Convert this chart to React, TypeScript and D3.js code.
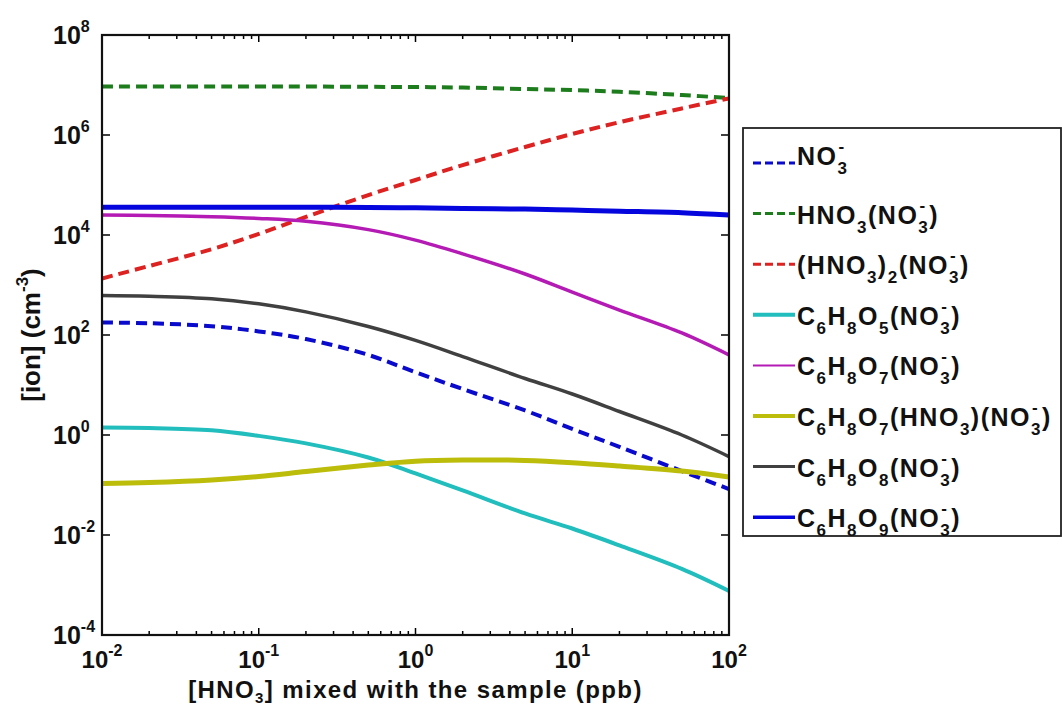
import React from 'react';
import * as d3 from 'd3';

// HNO3 mixed with the sample (ppb)
const hno3Ppb = [0.01, 0.02, 0.05, 0.1, 0.2, 0.5, 1, 2, 5, 10, 20, 50, 100];

// ion concentrations (cm^-3)
const no3 = [178, 172, 150, 118, 83, 40, 18, 8.3, 3.1, 1.32, 0.58, 0.19, 0.083];
const hno3No3 = [9.3e6, 9.3e6, 9.3e6, 9.3e6, 9.3e6, 9.2e6, 9.1e6, 8.9e6, 8.3e6, 7.9e6, 7.3e6, 6.3e6, 5.5e6];
const hno3_2No3 = [1350, 2400, 5200, 1.05e4, 2.3e4, 6.3e4, 1.26e5, 2.5e5, 5.75e5, 1.05e6, 1.8e6, 3.4e6, 5.4e6];
const c6h8o5 = [1.41, 1.38, 1.24, 0.96, 0.68, 0.355, 0.17, 0.078, 0.027, 0.0135, 0.0062, 0.0021, 0.00076];
const c6h8o7 = [2.5e4, 2.46e4, 2.33e4, 2.15e4, 1.88e4, 1.28e4, 7.9e3, 4.2e3, 1.66e3, 720, 316, 110, 40];
const c6h8o7Hno3 = [0.107, 0.112, 0.126, 0.148, 0.186, 0.25, 0.3, 0.316, 0.31, 0.28, 0.24, 0.19, 0.145];
const c6h8o8 = [617, 595, 530, 420, 290, 148, 78, 37, 13.5, 6.6, 2.95, 1.0, 0.37];
const c6h8o9 = [3.6e4, 3.6e4, 3.6e4, 3.6e4, 3.6e4, 3.55e4, 3.5e4, 3.4e4, 3.3e4, 3.15e4, 3.0e4, 2.8e4, 2.5e4];

const seriesValues = [no3, hno3No3, hno3_2No3, c6h8o5, c6h8o7, c6h8o7Hno3, c6h8o8, c6h8o9];
const seriesNames = [
  'NO_3^-',
  'HNO_3(NO_3^-)',
  '(HNO_3)_2(NO_3^-)',
  'C_6H_8O_5(NO_3^-)',
  'C_6H_8O_7(NO_3^-)',
  'C_6H_8O_7(HNO_3)(NO_3^-)',
  'C_6H_8O_8(NO_3^-)',
  'C_6H_8O_9(NO_3^-)',
];
const seriesColors = ['#0a0acc', '#1d7d1d', '#dd2222', '#22bdbd', '#b41ab4', '#bcbc0a', '#404040', '#0505dd'];
const seriesDashed = [true, true, true, false, false, false, false, false];
const seriesWidths = [4, 4, 4, 4, 3.5, 5, 3.5, 5];
const legendWidths = [3, 3, 3, 4, 2, 4, 3, 3.5];

const xTickExps = [-2, -1, 0, 1, 2];
const yTickExps = [-4, -2, 0, 2, 4, 6, 8];
const xAxisLabel = '[HNO_3] mixed with the sample (ppb)';
const yAxisLabel = '[ion] (cm^{-3})';

const FONT = '"Liberation Sans", Arial, Helvetica, sans-serif';

type Seg = { t: string; k: 'n' | 'sub' | 'sup'; stack?: boolean };

function parse(s: string): Seg[] {
  const out: Seg[] = [];
  let buf = '';
  let i = 0;
  const flush = () => {
    if (buf) {
      out.push({ t: buf, k: 'n' });
      buf = '';
    }
  };
  while (i < s.length) {
    const c = s[i];
    if (c === '_' || c === '^') {
      flush();
      let t = '';
      if (s[i + 1] === '{') {
        const j = s.indexOf('}', i + 2);
        t = s.slice(i + 2, j);
        i = j + 1;
      } else {
        t = s[i + 1];
        i += 2;
      }
      const k = c === '_' ? 'sub' : 'sup';
      const prev = out[out.length - 1];
      out.push({ t, k, stack: !!prev && prev.k === 'sub' && k === 'sup' });
    } else {
      buf += c;
      i++;
    }
  }
  flush();
  return out;
}

function richSpans(text: string, fs: number, smallFs: number, subDy: number, supDy: number, ls = 0) {
  const segs = parse(text);
  let cur = 0;
  let pendingDx = 0;
  const nodes: React.ReactNode[] = [];
  segs.forEach((s, i) => {
    const target = s.k === 'sub' ? subDy : s.k === 'sup' ? supDy : 0;
    const dy = target - cur;
    cur = target;
    let dx = pendingDx;
    pendingDx = 0;
    if (s.stack) {
      const prev = segs[i - 1];
      const prevW = prev.t.length * (0.556 * smallFs + ls);
      const supW = s.t.length * (0.333 * smallFs + ls);
      dx = -prevW + 1;
      pendingDx = Math.max(0, prevW - supW - 1);
    }
    nodes.push(
      <tspan key={i} dy={dy} dx={dx || undefined} fontSize={s.k === 'n' ? fs : smallFs}>
        {s.t}
      </tspan>
    );
  });
  return nodes;
}

export default function App() {
  const W = 1062;
  const H = 707;
  const left = 102, right = 729, top = 35, bottom = 635;

  const x = d3.scaleLog().domain([1e-2, 1e2]).range([left, right]);
  const y = d3.scaleLog().domain([1e-4, 1e8]).range([bottom, top]);

  const line = d3
    .line<[number, number]>()
    .x((d) => x(d[0]))
    .y((d) => y(d[1]))
    .curve(d3.curveCatmullRom.alpha(0.5));

  const minorX: number[] = [];
  for (let e = -2; e < 2; e++) for (let k = 2; k <= 9; k++) minorX.push(k * Math.pow(10, e));

  const legX = 743, legY = 128, legW = 318, legH = 408;
  const rowY0 = 163, rowStep = 50.6;

  return (
    <svg
      width={W}
      height={H}
      style={{ position: 'absolute', left: 0, top: 0, background: '#fff' }}
      fontFamily={FONT}
      fontWeight="bold"
    >
      <rect x={0} y={0} width={W} height={H} fill="#fff" />
      <defs>
        <clipPath id="plotclip">
          <rect x={left} y={top} width={right - left} height={bottom - top} />
        </clipPath>
      </defs>

      {/* series */}
      <g clipPath="url(#plotclip)">
        {seriesValues.map((vals, i) => (
          <path
            key={i}
            d={line(hno3Ppb.map((xv, j) => [xv, vals[j]] as [number, number])) || ''}
            fill="none"
            stroke={seriesColors[i]}
            strokeWidth={seriesWidths[i]}
            strokeDasharray={seriesDashed[i] ? '11 6' : undefined}
          />
        ))}
      </g>

      {/* ticks */}
      <g stroke="#000" strokeWidth={1.5}>
        {xTickExps.map((e) => {
          const px = x(Math.pow(10, e));
          return (
            <g key={'xt' + e}>
              <line x1={px} x2={px} y1={bottom} y2={bottom - 7} />
              <line x1={px} x2={px} y1={top} y2={top + 7} />
            </g>
          );
        })}
        {minorX.map((v, i) => {
          const px = x(v);
          return (
            <g key={'xm' + i}>
              <line x1={px} x2={px} y1={bottom} y2={bottom - 4} />
              <line x1={px} x2={px} y1={top} y2={top + 4} />
            </g>
          );
        })}
        {yTickExps.map((e) => {
          const py = y(Math.pow(10, e));
          return (
            <g key={'yt' + e}>
              <line x1={left} x2={left + 8} y1={py} y2={py} />
              <line x1={right} x2={right - 8} y1={py} y2={py} />
            </g>
          );
        })}
      </g>

      {/* axes box */}
      <rect x={left} y={top} width={right - left} height={bottom - top} fill="none" stroke="#111" strokeWidth={2.2} />

      {/* tick labels */}
      <g fill="#111">
        {yTickExps.map((e) => (
          <text key={'yl' + e} x={53} y={y(Math.pow(10, e)) + 9} fontSize={25}>
            {richSpans('10^{' + e + '}', 25, 16, 6, -12)}
          </text>
        ))}
        {xTickExps.map((e) => (
          <text key={'xl' + e} x={x(Math.pow(10, e))} y={668} fontSize={24} textAnchor="middle">
            {richSpans('10^{' + e + '}', 24, 16, 6, -12)}
          </text>
        ))}
      </g>

      {/* axis labels */}
      <text x={(left + right) / 2} y={698} fontSize={24} textAnchor="middle" fill="#111" letterSpacing={1.4}>
        {richSpans(xAxisLabel, 24, 15, 5, -12, 1.4)}
      </text>
      <text
        transform={`translate(40, ${(top + bottom) / 2}) rotate(-90)`}
        fontSize={26}
        textAnchor="middle"
        fill="#111"
      >
        {richSpans(yAxisLabel, 26, 17, 8, -12)}
      </text>

      {/* legend */}
      <rect x={legX} y={legY} width={legW} height={legH} fill="#fff" stroke="#222" strokeWidth={1.8} />
      {seriesNames.map((name, i) => {
        const ly = rowY0 + i * rowStep;
        const base = i === 0 ? ly + 2 : ly + 10;
        return (
          <g key={'lg' + i}>
            <line
              x1={753}
              x2={795}
              y1={ly}
              y2={ly}
              stroke={seriesColors[i]}
              strokeWidth={legendWidths[i]}
              strokeDasharray={seriesDashed[i] ? '8 4' : undefined}
            />
            <text x={797} y={base} fontSize={25} fill="#111" letterSpacing={1.5}>
              {richSpans(name, 25, 17, 9, -13, 1.5)}
            </text>
          </g>
        );
      })}
    </svg>
  );
}
